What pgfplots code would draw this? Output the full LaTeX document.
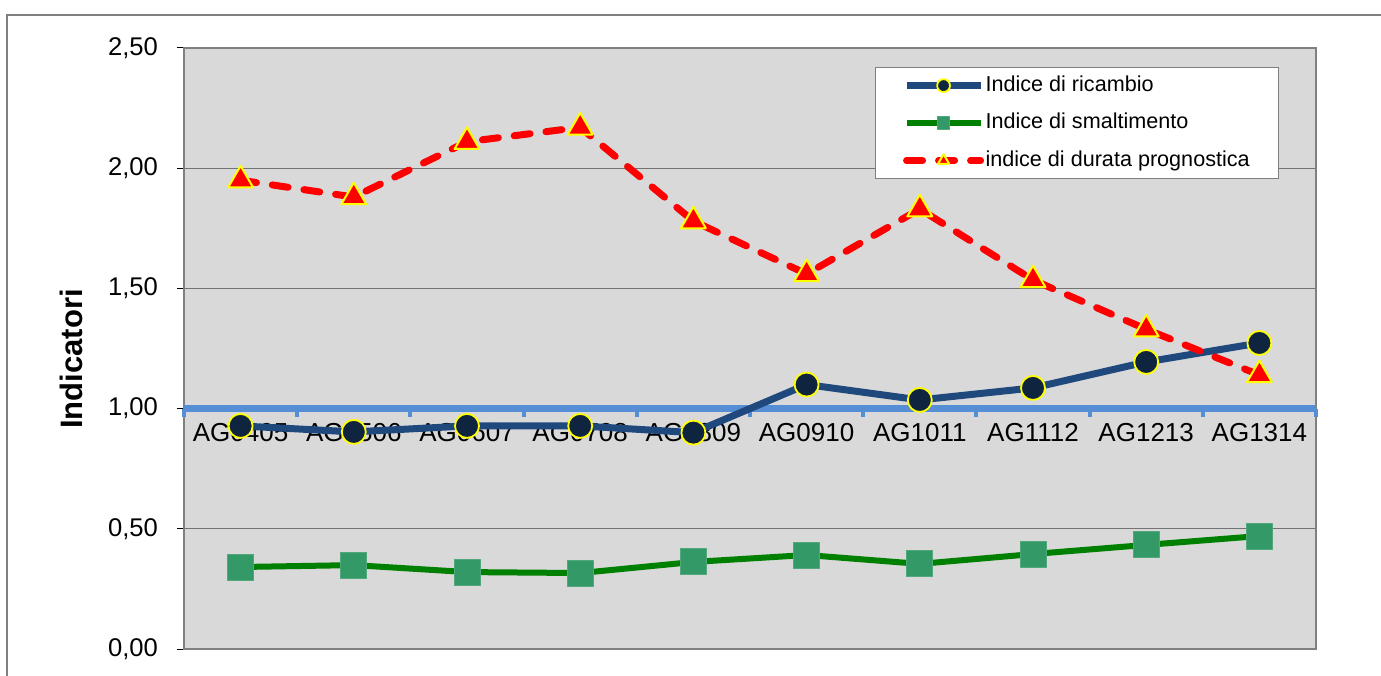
\documentclass[border=0pt]{standalone}
\usepackage{pgfplots}
\pgfplotsset{compat=1.18}
\usepackage{fontspec}
\setmainfont{Liberation Sans}

\definecolor{bggray}{HTML}{D9D9D9}
\definecolor{framegray}{HTML}{808080}
\definecolor{axisblue}{HTML}{558ED5}
\definecolor{navyline}{HTML}{1F497D}
\definecolor{navyfill}{HTML}{0F243E}
\definecolor{greenline}{HTML}{008000}
\definecolor{greenfill}{HTML}{339966}
\definecolor{markyellow}{HTML}{FFFF00}

\begin{document}
\begin{tikzpicture}
\useasboundingbox (-92pt,-13pt) rectangle (598.5pt,324.5pt);
% outer chart frame
\draw[framegray, line width=0.8pt] (-88.5pt,-14pt) -- (-88.5pt,317pt) -- (600pt,317pt);

% plot area: background, grid, y axis
\begin{axis}[
    at={(0,0)}, anchor=south west,
    scale only axis, width=566pt, height=300.5pt,
    xmin=-0.5, xmax=9.5, ymin=0, ymax=2.5,
    axis background/.style={fill=bggray},
    axis line style={draw=framegray, line width=0.8pt},
    xtick=\empty,
    ytick={0,0.5,...,2.5},
    ytick pos=left,
    tick align=outside,
    major tick length=3.5pt,
    tick style={black, line width=0.5pt},
    ymajorgrids,
    grid style={draw=black!55, line width=0.6pt},
    /pgf/number format/fixed,
    /pgf/number format/fixed zerofill,
    /pgf/number format/precision=2,
    /pgf/number format/use comma,
    /pgf/number format/assume math mode=true,
    yticklabel style={font=\fontsize{12.8}{15}\selectfont, xshift=-6pt},
    ylabel={Indicatori},
    ylabel style={at={(axis description cs:-0.0994,0.4825)}, anchor=center,
        font=\bfseries\fontsize{15.5}{18}\selectfont},
]
\end{axis}

% category axis crossing at 1,00
\begin{axis}[
    at={(0,120.2pt)}, anchor=south west,
    scale only axis, width=566pt, height=180.3pt,
    xmin=-0.5, xmax=9.5, ymin=1, ymax=2.5,
    axis x line*=bottom, axis y line=none,
    x axis line style={draw=axisblue, line width=3.5pt, -},
    xtick={0,...,9},
    xticklabels={AG0405,AG0506,AG0607,AG0708,AG0809,AG0910,AG1011,AG1112,AG1213,AG1314},
    tick align=outside,
    major tick length=0pt,
    xticklabel style={font=\fontsize{13}{15}\selectfont, yshift=-4pt},
    extra x ticks={-0.5,0.5,...,9.5},
    extra x tick labels={},
    extra x tick style={major tick length=4pt,
        tick style={draw=axisblue, line width=2pt}},
]
\end{axis}

% data series
\begin{axis}[
    at={(0,0)}, anchor=south west,
    scale only axis, width=566pt, height=300.5pt,
    xmin=-0.5, xmax=9.5, ymin=0, ymax=2.5,
    hide axis,
    clip=false,
    legend cell align=left,
    legend image code/.code={%
        \draw[mark repeat=2, mark phase=2, #1, mark size=3.2pt]
            plot coordinates {(0pt,0pt) (18.5pt,0pt) (37pt,0pt)};},
    legend style={at={(0.6104,0.9684)}, anchor=north west,
        draw=framegray, line width=0.6pt, fill=white,
        font=\fontsize{10.8}{13}\selectfont,
        inner xsep=13.75pt, inner ysep=1.75pt, row sep=4.25pt,
        nodes={text height=8pt, text depth=2.5pt, inner ysep=2pt, inner xsep=0.75pt}},
]
\addplot[navyline, line width=3.5pt, line join=round,
    mark=*, mark size=6pt,
    mark options={fill=navyfill, draw=markyellow, line width=0.9pt}]
coordinates {
    (0,0.928) (1,0.903) (2,0.928) (3,0.928) (4,0.900)
    (5,1.100) (6,1.036) (7,1.086) (8,1.194) (9,1.273)
};
\addlegendentry{Indice di ricambio}

\addplot[greenline, line width=3pt, line join=round,
    mark=square*, mark size=6.5pt,
    mark options={fill=greenfill, draw=greenfill!85!white, line width=0.5pt}]
coordinates {
    (0,0.341) (1,0.349) (2,0.320) (3,0.316) (4,0.362)
    (5,0.391) (6,0.354) (7,0.395) (8,0.433) (9,0.470)
};
\addlegendentry{Indice di smaltimento}

\addplot[red, line width=3.5pt, line cap=round, line join=round,
    dash pattern=on 8pt off 8pt,
    mark=triangle*, mark size=7.2pt,
    mark options={fill=red, draw=markyellow, line width=1pt, solid}]
coordinates {
    (0,1.950) (1,1.880) (2,2.110) (3,2.170) (4,1.780)
    (5,1.560) (6,1.830) (7,1.535) (8,1.330) (9,1.140)
};
\addlegendentry{indice di durata prognostica}
\end{axis}
\end{tikzpicture}
\end{document}
